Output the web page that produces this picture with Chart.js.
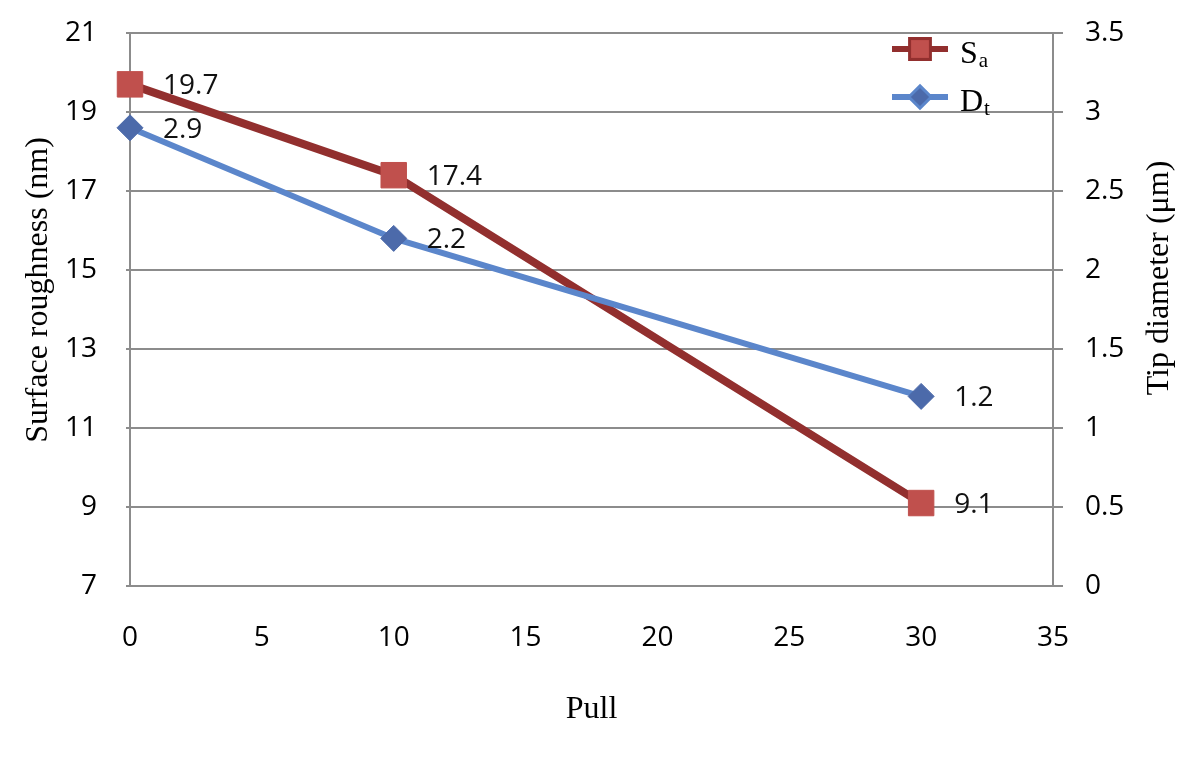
<!DOCTYPE html>
<html>
<head>
<meta charset="utf-8">
<title>Surface roughness and tip diameter vs pull</title>
<script src="https://cdn.jsdelivr.net/npm/chart.js@4"></script>
<style>
  html, body { margin: 0; padding: 0; background: #fff; }
  #wrap { width: 1200px; height: 760px; }
</style>
</head>
<body>
<div id="wrap"><canvas id="chart" width="1200" height="760"></canvas></div>
<script>
// ---------------------------------------------------------------------------
// Data
// ---------------------------------------------------------------------------
const pulls = [0, 10, 30];
const roughness = [19.7, 17.4, 9.1];   // S_a, nm (left axis)
const tipDiameter = [2.9, 2.2, 1.2];   // D_t, µm (right axis)

const xTicks = [0, 5, 10, 15, 20, 25, 30, 35];
const leftTicks = [7, 9, 11, 13, 15, 17, 19, 21];
const rightTicks = [0, 0.5, 1, 1.5, 2, 2.5, 3, 3.5];

const seriesNames = [['S', 'a'], ['D', 't']];
const axisTitles = ['Surface roughness (nm)', 'Tip diameter (\u03bcm)', 'Pull'];

// ---------------------------------------------------------------------------
// Styling
// ---------------------------------------------------------------------------
const GRID = '#8c8c8c';
const SANS = '"Open Sans", sans-serif';
const SERIF = '"Liberation Serif", "Times New Roman", serif';

const toPoints = (xs, ys) => xs.map((x, i) => ({ x, y: ys[i] }));

// fixed box sizes so the plot area lands where the original one does
const fixWidth = w => s => { s.width = w; s.paddingTop = 0; s.paddingBottom = 0; };

// value labels to the right of every point
const valueLabels = {
  id: 'valueLabels',
  afterDatasetsDraw(chart) {
    const ctx = chart.ctx;
    ctx.save();
    ctx.font = '28px ' + SANS;
    ctx.fillStyle = '#111';
    ctx.textAlign = 'left';
    ctx.textBaseline = 'middle';
    chart.data.datasets.forEach((ds, i) => {
      chart.getDatasetMeta(i).data.forEach((pt, j) => {
        ctx.fillText(String(ds.data[j].y), pt.x + 33, pt.y + 2);
      });
    });
    ctx.restore();
  },
};

// rotated y titles + legend with subscripts, Excel style
const decorations = {
  id: 'decorations',
  afterDraw(chart) {
    const ctx = chart.ctx;
    const area = chart.chartArea;
    ctx.save();
    ctx.fillStyle = '#000';
    ctx.font = '32px ' + SERIF;
    ctx.textAlign = 'center';
    ctx.textBaseline = 'middle';

    ctx.save();
    ctx.translate(39, 290);
    ctx.rotate(-Math.PI / 2);
    ctx.fillText(axisTitles[0], 0, 0);
    ctx.restore();

    ctx.save();
    ctx.translate(1160, 278);
    ctx.rotate(-Math.PI / 2);
    ctx.fillText(axisTitles[1], 0, 0);
    ctx.restore();

    // legend: line + marker, then name with subscript (S_a on top)
    const names = { 1: seriesNames[0], 0: seriesNames[1] };
    [1, 0].forEach((dsIndex, row) => {
      const ds = chart.data.datasets[dsIndex];
      const y = area.top + 16 + row * 48;
      const x0 = area.right - 161;
      const x1 = area.right - 105;
      ctx.strokeStyle = ds.borderColor;
      ctx.lineWidth = 6;
      ctx.beginPath();
      ctx.moveTo(x0, y);
      ctx.lineTo(x1, y);
      ctx.stroke();
      Chart.helpers.drawPoint(ctx, {
        pointStyle: ds.pointStyle,
        radius: ds.pointRadius * 0.7,
        borderWidth: 1,
      }, (x0 + x1) / 2, y);
      ctx.fillStyle = ds.pointBackgroundColor;
      ctx.fill();

      const [main, sub] = names[dsIndex];
      ctx.fillStyle = '#000';
      ctx.textAlign = 'left';
      ctx.textBaseline = 'alphabetic';
      ctx.font = '32px ' + SERIF;
      const tx = area.right - 93;
      ctx.fillText(main, tx, y + 14);
      const w = ctx.measureText(main).width;
      ctx.font = '21px ' + SERIF;
      ctx.fillText(sub, tx + w + 1, y + 18);
    });
    ctx.restore();
  },
};

new Chart(document.getElementById('chart'), {
  type: 'line',
  data: {
    datasets: [
      {
        label: 'Dt',
        data: toPoints(pulls, tipDiameter),
        yAxisID: 'y2',
        borderColor: '#5b86cb',
        borderWidth: 6,
        pointStyle: 'rectRot',
        pointRadius: 13,
        pointBackgroundColor: '#4c6aaa',
        pointBorderColor: '#4c6aaa',
        pointBorderWidth: 1,
        tension: 0,
        clip: false,
        order: 0,
      },
      {
        label: 'Sa',
        data: toPoints(pulls, roughness),
        yAxisID: 'y',
        borderColor: '#922f2e',
        borderWidth: 8,
        pointStyle: 'rect',
        pointRadius: 18,
        pointBackgroundColor: '#c0504d',
        pointBorderColor: '#c0504d',
        pointBorderWidth: 1,
        tension: 0,
        clip: false,
        order: 1,
      },
    ],
  },
  options: {
    responsive: false,
    animation: false,
    layout: { padding: { top: 33, left: 0, right: 0, bottom: 0 } },
    plugins: {
      legend: { display: false },
      tooltip: { enabled: false },
    },
    scales: {
      x: {
        type: 'linear',
        min: 0,
        max: 35,
        afterBuildTicks: s => { s.ticks = xTicks.map(v => ({ value: v })); },
        afterFit: s => { s.height = 174; s.paddingLeft = 0; s.paddingRight = 0; },
        grid: { display: false, drawTicks: false },
        border: { display: true, color: GRID, width: 2 },
        ticks: { padding: 35, color: '#000', font: { family: SANS, size: 28 }, maxRotation: 0 },
        title: {
          display: true,
          text: axisTitles[2],
          color: '#000',
          font: { family: SERIF, size: 32 },
          padding: { top: 0, bottom: 31 },
        },
      },
      y: {
        position: 'left',
        min: 7,
        max: 21,
        afterBuildTicks: s => { s.ticks = leftTicks.map(v => ({ value: v })); },
        afterFit: fixWidth(130),
        grid: { color: GRID, lineWidth: 2, tickLength: 4 },
        border: { display: true, color: GRID, width: 2 },
        ticks: { padding: 29, color: '#000', font: { family: SANS, size: 28 } },
      },
      y2: {
        position: 'right',
        min: 0,
        max: 3.5,
        afterBuildTicks: s => { s.ticks = rightTicks.map(v => ({ value: v })); },
        afterFit: fixWidth(147),
        grid: { drawOnChartArea: false, color: GRID, lineWidth: 2, tickLength: 10 },
        border: { display: true, color: GRID, width: 2 },
        ticks: {
          padding: 22,
          color: '#000',
          font: { family: SANS, size: 28 },
          callback: v => String(v),
        },
      },
    },
  },
  plugins: [valueLabels, decorations],
});
</script>
</body>
</html>
